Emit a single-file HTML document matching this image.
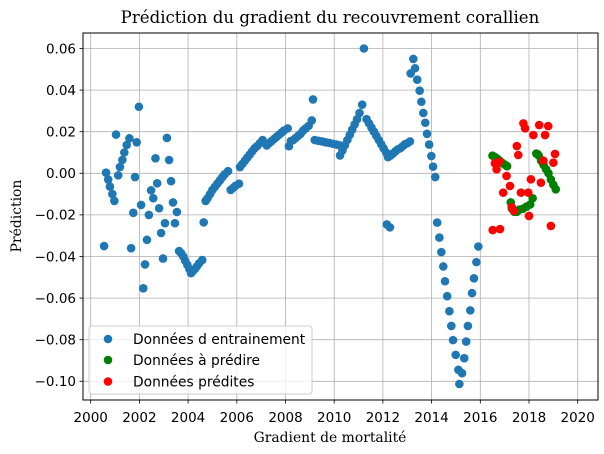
<!DOCTYPE html>
<html><head><meta charset="utf-8"><style>
body{margin:0;background:#fff;width:604px;height:454px;overflow:hidden}
svg{display:block}
.tk{font-family:"DejaVu Sans","Liberation Sans",sans-serif;font-size:13.5px;fill:#000}
.sf{font-family:"DejaVu Serif","Liberation Serif",serif;fill:#000}
.lg{font-family:"DejaVu Sans","Liberation Sans",sans-serif;font-size:13.8px;fill:#000}
</style></head><body>
<svg id="chart" width="604" height="454">
<rect x="0" y="0" width="604" height="454" fill="#fff"/>
<g id="grid"></g>
<g id="pts"></g>
<rect x="83" y="33" width="515" height="367" fill="none" stroke="#000" stroke-width="1"/>
<g id="ticks"></g>
<text class="sf" x="330" y="23" text-anchor="middle" font-size="16.6">Prédiction du gradient du recouvrement corallien</text>
<text class="sf" x="330" y="442" text-anchor="middle" font-size="13.9">Gradient de mortalité</text>
<text class="sf" x="0" y="0" transform="translate(21,216) rotate(-90)" text-anchor="middle" font-size="13.9">Prédiction</text>
<g>
<rect x="89" y="326" width="223" height="68" rx="3" fill="#fff" fill-opacity="0.8" stroke="#ccc"/>
<circle cx="108" cy="339" r="4.3" fill="#1f77b4"/>
<text class="lg" x="133" y="344">Données d entrainement</text>
<circle cx="108" cy="360" r="4.3" fill="green"/>
<text class="lg" x="133" y="365">Données à prédire</text>
<circle cx="108" cy="381.5" r="4.3" fill="red"/>
<text class="lg" x="133" y="386.5">Données prédites</text>
</g>
</svg>
<script>
const xTicks=[2000,2002,2004,2006,2008,2010,2012,2014,2016,2018,2020];
const yTicks=[-0.10,-0.08,-0.06,-0.04,-0.02,0.00,0.02,0.04,0.06];
const yTickLabels=["−0.10","−0.08","−0.06","−0.04","−0.02","0.00","0.02","0.04","0.06"];
const trainX=[2000.55,2000.63,2000.72,2000.79,2000.89,2000.97,2001.04,2001.13,2001.2,2001.3,2001.38,2001.48,2001.59,2001.66,2001.75,2001.82,2001.89,2001.98,2002.07,2002.16,2002.23,2002.31,2002.39,2002.48,2002.57,2002.66,2002.73,2002.81,2002.89,2002.97,2003.05,2003.13,2003.22,2003.3,2003.38,2003.46,2003.54,2003.63,2003.72,2003.8,2003.88,2003.97,2004.05,2004.12,2004.2,2004.28,2004.36,2004.45,2004.58,2004.64,
2004.72,2004.8,2004.9,2005.0,2005.1,2005.2,2005.3,2005.4,2005.5,2005.64,2005.75,2005.85,2005.95,2006.09,
2006.13,2006.23,2006.33,2006.43,2006.53,2006.63,2006.73,2006.83,2006.95,2007.06,
2007.23,2007.33,2007.43,2007.53,2007.63,2007.73,2007.83,2007.93,2008.09,2008.14,
2008.22,2008.32,2008.42,2008.52,2008.62,2008.72,2008.82,2008.95,2009.08,2009.13,
2009.2,2009.35,2009.5,2009.65,2009.8,2009.95,2010.1,2010.24,
2010.24,2010.34,2010.44,2010.54,2010.64,2010.74,2010.84,2010.94,2011.04,2011.15,2011.22,
2011.33,2011.43,2011.53,2011.63,2011.73,2011.83,2011.93,2012.03,2012.13,2012.21,
2012.31,2012.41,2012.51,2012.61,2012.71,2012.81,2012.91,2013.01,2013.11,2012.16,2012.29,
2013.14,2013.25,2013.32,2013.41,2013.51,2013.58,2013.66,2013.74,2013.81,2013.9,2013.99,2014.06,2014.15,
2014.23,2014.32,2014.4,2014.48,2014.55,2014.64,2014.73,2014.81,2014.88,2014.99,2015.1,2015.14,2015.25,2015.34,2015.42,2015.49,2015.59,2015.66,2015.74,2015.84,2015.92];
const trainY=[-0.035,0.0003,-0.003,-0.0064,-0.010,-0.0133,0.0186,-0.001,0.003,0.0064,0.010,0.0136,0.0168,-0.036,-0.019,-0.0018,0.0149,0.032,-0.0152,-0.0553,-0.0438,-0.032,-0.020,-0.0082,-0.012,0.0072,-0.0048,-0.0168,-0.0287,-0.041,-0.024,0.017,0.0064,-0.0038,-0.014,-0.024,-0.0186,-0.0374,-0.0385,-0.040,-0.042,-0.044,-0.046,-0.048,-0.047,-0.046,-0.0448,-0.0433,-0.0417,-0.0236,
-0.0133,-0.012,-0.010,-0.008,-0.0065,-0.005,-0.0035,-0.002,-0.0005,0.001,-0.008,-0.007,-0.006,-0.005,
0.003,0.0045,0.006,0.0075,0.009,0.0105,0.012,0.013,0.0145,0.016,
0.0134,0.0145,0.0155,0.0165,0.0175,0.0185,0.0195,0.0205,0.0216,0.013,
0.0155,0.016,0.017,0.018,0.019,0.0205,0.0215,0.0228,0.0254,0.0355,
0.016,0.0156,0.0153,0.0149,0.0146,0.0142,0.0138,0.0134,
0.0086,0.011,0.0135,0.016,0.0185,0.021,0.0235,0.026,0.029,0.033,0.060,
0.026,0.024,0.022,0.020,0.018,0.016,0.014,0.012,0.010,0.0078,
0.0085,0.0095,0.0105,0.0115,0.012,0.013,0.014,0.0145,0.0153,-0.0246,-0.026,
0.048,0.055,0.0505,0.045,0.0397,0.0344,0.029,0.0243,0.019,0.0138,0.0083,0.0032,-0.0018,
-0.0237,-0.0309,-0.0379,-0.0448,-0.0519,-0.0591,-0.0663,-0.0734,-0.0802,-0.0873,-0.0945,-0.1013,-0.0961,-0.0889,-0.0809,-0.0734,-0.0659,-0.0576,-0.0505,-0.0427,-0.0352];
const targetX=[2016.5,2016.6,2016.7,2016.8,2016.9,2017.0,2017.1,2017.25,2017.3,2017.4,2017.5,2017.6,2017.75,2017.9,2018.05,2018.15,2018.3,2018.35,2018.4,2018.5,2018.6,2018.7,2018.8,2018.9,2019.0,2019.1];
const targetY=[0.0085,0.0078,0.007,0.006,0.005,0.0042,0.0034,-0.014,-0.017,-0.0185,-0.0185,-0.0175,-0.017,-0.016,-0.015,-0.012,0.0095,0.0092,0.0085,0.006,0.004,0.002,0.0,-0.003,-0.0055,-0.0077];
const predX=[2017.77,2017.84,2018.42,2018.79,2018.18,2018.66,2017.5,2017.56,2019.07,2019.0,2018.59,2016.6,2016.78,2016.67,2017.08,2018.08,2018.49,2017.22,2016.94,2017.67,2017.97,2017.29,2017.38,2018.0,2016.51,2016.81,2018.9];
const predY=[0.024,0.0216,0.0232,0.0227,0.0184,0.0184,0.0131,0.0088,0.0093,0.0051,0.0061,0.0048,0.0056,0.0019,-0.0013,-0.0029,-0.0045,-0.0061,-0.0093,-0.0093,-0.0093,-0.0163,-0.018,-0.0205,-0.0273,-0.0268,-0.0253];

const NS='http://www.w3.org/2000/svg';
function sx(v){return 90.7+(v-2000)*24.35;}
function sy(v){return 173.3-v*2080;}
const grid=document.getElementById('grid'),ticks=document.getElementById('ticks'),pts=document.getElementById('pts');
function mk(tag,attrs,parent){const e=document.createElementNS(NS,tag);for(const k in attrs)e.setAttribute(k,attrs[k]);parent.appendChild(e);return e;}
xTicks.forEach(t=>{const x=sx(t);
 const g=mk('line',{x1:x,x2:x,y1:33,y2:400,stroke:'#b0b0b0','stroke-width':0.8},grid);
 
 
 const l=mk('line',{x1:x,x2:x,y1:400,y2:403.5,stroke:'#000','stroke-width':0.8},ticks);
 
 
 const tx=mk('text',{x:x,y:422,'text-anchor':'middle',class:'tk'},ticks);tx.textContent=t;
 
 
});
yTicks.forEach((t,i)=>{const y=sy(t);
 const g=mk('line',{x1:83,x2:598,y1:y,y2:y,stroke:'#b0b0b0','stroke-width':0.8},grid);
 
 
 const l=mk('line',{x1:79.5,x2:83,y1:y,y2:y,stroke:'#000','stroke-width':0.8},ticks);
 
 
 const tx=mk('text',{x:76,y:y+4.8,'text-anchor':'end',class:'tk'},ticks);tx.textContent=yTickLabels[i];
 
 
});
function series(xs,ys,col,name){for(let i=0;i<xs.length;i++){
 const c=mk('circle',{cx:sx(xs[i]),cy:sy(ys[i]),r:4.3,fill:col},pts);
 
 
}}
series(trainX,trainY,'#1f77b4','train-point');
series(targetX,targetY,'green','target-point');
series(predX,predY,'red','predicted-point');
</script>
</body></html>
